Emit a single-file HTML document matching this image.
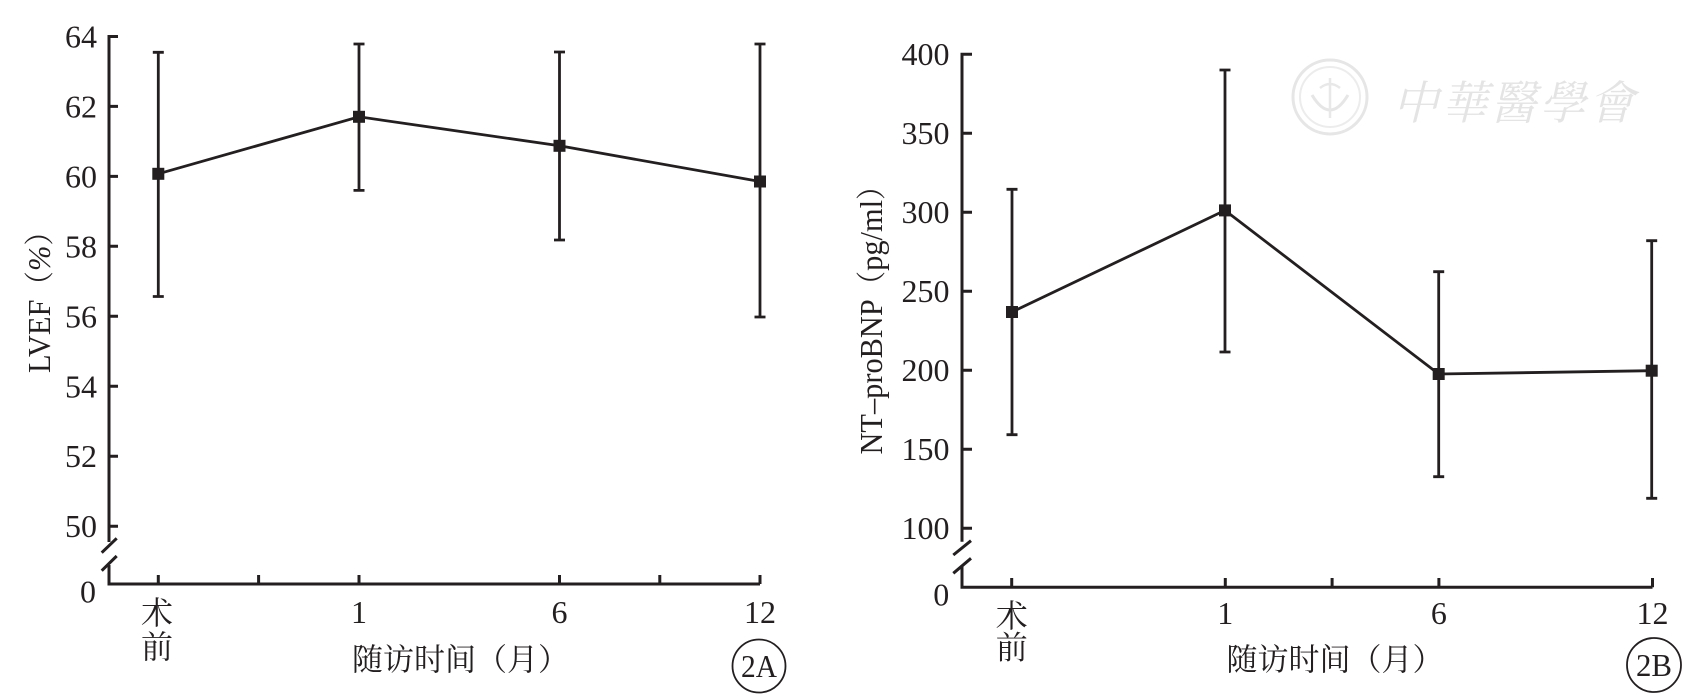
<!DOCTYPE html>
<html>
<head>
<meta charset="utf-8">
<style>
  html, body { margin:0; padding:0; background:#fff; }
  svg { display:block; }
  .num { font-family: "Liberation Serif", "Noto Serif CJK SC", serif; font-size:32px; fill:#231f20; }
  .cjk { font-family: "Liberation Serif", "Noto Serif CJK SC", serif; font-size:31px; fill:#231f20; }
  .ax { stroke:#231f20; stroke-width:3; fill:none; }
  .ln { stroke:#231f20; stroke-width:2.8; fill:none; }
</style>
</head>
<body>
<svg width="1698" height="697" viewBox="0 0 1698 697" xmlns="http://www.w3.org/2000/svg">
  <rect x="0" y="0" width="1698" height="697" fill="#ffffff"/>

  <!-- Watermark -->
  <g opacity="1">
    <circle cx="1330" cy="97" r="37" fill="none" stroke="#e6e6e6" stroke-width="3"/>
    <circle cx="1330" cy="97" r="30" fill="none" stroke="#ececec" stroke-width="2"/>
    <path d="M1312 95 Q1330 125 1348 95" fill="none" stroke="#e6e6e6" stroke-width="3"/>
    <path d="M1330 78 V118 M1320 88 Q1330 80 1340 88" fill="none" stroke="#e8e8e8" stroke-width="2.5"/>
    <text x="1515" y="100" dominant-baseline="central" text-anchor="middle"
      style="font-family:'Noto Serif CJK TC','Noto Serif CJK SC',serif;font-size:46px;fill:#e4e4e4;font-style:italic;letter-spacing:3px;">中華醫學會</text>
  </g>

  <!-- ================= Panel A ================= -->
  <path class="ax" d="M118 36.5 H109 V542 M109 565 V584 H760"/>
  <path class="ax" d="M109 106.4 H118 M109 176.4 H118 M109 246.3 H118 M109 316.3 H118 M109 386.3 H118 M109 456.2 H118 M109 526.2 H118"/>
  <path class="ax" d="M158.3 584 V575 M258.6 584 V575 M359 584 V575 M559.5 584 V575 M659.8 584 V575 M760 584 V575"/>
  <path class="ax" d="M101.7 552.7 L116.7 538.3 M101.7 570.7 L116.7 556"/>

  <g class="num" text-anchor="end">
    <text x="97" y="47.5">64</text>
    <text x="97" y="117.4">62</text>
    <text x="97" y="187.4">60</text>
    <text x="97" y="257.3">58</text>
    <text x="97" y="327.3">56</text>
    <text x="97" y="397.3">54</text>
    <text x="97" y="467.2">52</text>
    <text x="97" y="537.2">50</text>
    <text x="96" y="602.5">0</text>
  </g>
  <g class="num" text-anchor="middle">
    <text x="359" y="623">1</text>
    <text x="559.5" y="623">6</text>
    <text x="760" y="623">12</text>
  </g>
  <text class="cjk" x="157" y="613" text-anchor="middle" dominant-baseline="central" style="font-size:32px">术</text>
  <text class="cjk" x="157" y="647" text-anchor="middle" dominant-baseline="central" style="font-size:32px">前</text>
  <text class="cjk" x="460.5" y="660" text-anchor="middle" dominant-baseline="central">随访时间（月）</text>

  <text transform="translate(50,295) rotate(-90)" text-anchor="middle" class="num" textLength="156" lengthAdjust="spacingAndGlyphs">LVEF<tspan style="font-family:'Noto Serif CJK SC',serif;font-size:30px">（</tspan><tspan font-style="italic">%</tspan><tspan style="font-family:'Noto Serif CJK SC',serif;font-size:30px">）</tspan></text>

  <!-- error bars A -->
  <path class="ln" d="M158.3 52.3 V296.5 M152.8 52.3 H163.8 M152.8 296.5 H163.8"/>
  <path class="ln" d="M359 44 V190.4 M353.5 44 H364.5 M353.5 190.4 H364.5"/>
  <path class="ln" d="M559.5 52 V240 M554 52 H565 M554 240 H565"/>
  <path class="ln" d="M760 44 V317 M754.5 44 H765.5 M754.5 317 H765.5"/>
  <polyline class="ln" points="158.3,173.8 359,116.8 559.5,145.8 760,181.5"/>
  <g fill="#231f20">
    <rect x="152.3" y="167.8" width="12" height="12"/>
    <rect x="353" y="110.8" width="12" height="12"/>
    <rect x="553.5" y="139.8" width="12" height="12"/>
    <rect x="754" y="175.5" width="12" height="12"/>
  </g>

  <circle cx="759" cy="666" r="26.5" fill="none" stroke="#231f20" stroke-width="1.8"/>
  <text x="759" y="677" text-anchor="middle" class="num" style="font-size:32px" textLength="36" lengthAdjust="spacingAndGlyphs">2A</text>

  <!-- ================= Panel B ================= -->
  <path class="ax" d="M972 54.3 H962 V541.7 M962 565 V587.3 H1652.5"/>
  <path class="ax" d="M962 133.3 H972 M962 212.3 H972 M962 291.3 H972 M962 370.3 H972 M962 449.3 H972 M962 528.3 H972"/>
  <path class="ax" d="M1011.7 587.3 V578 M1225.3 587.3 V578 M1332.1 587.3 V578 M1438.9 587.3 V578 M1652.5 587.3 V578"/>
  <path class="ax" d="M953.3 555 L971 540.7 M953.3 573.3 L971 558.3"/>

  <g class="num" text-anchor="end">
    <text x="949.5" y="65">400</text>
    <text x="949.5" y="144">350</text>
    <text x="949.5" y="223">300</text>
    <text x="949.5" y="302">250</text>
    <text x="949.5" y="381">200</text>
    <text x="949.5" y="460">150</text>
    <text x="949.5" y="539">100</text>
    <text x="949.3" y="605.5">0</text>
  </g>
  <g class="num" text-anchor="middle">
    <text x="1225.3" y="624">1</text>
    <text x="1438.9" y="624">6</text>
    <text x="1652.5" y="624">12</text>
  </g>
  <text class="cjk" x="1011.7" y="616" text-anchor="middle" dominant-baseline="central" style="font-size:32px">术</text>
  <text class="cjk" x="1011.7" y="647.5" text-anchor="middle" dominant-baseline="central" style="font-size:32px">前</text>
  <text class="cjk" x="1335" y="660" text-anchor="middle" dominant-baseline="central">随访时间（月）</text>

  <text transform="translate(882,313) rotate(-90)" text-anchor="middle" class="num" textLength="283" lengthAdjust="spacingAndGlyphs">NT–proBNP<tspan style="font-family:'Noto Serif CJK SC',serif;font-size:30px">（</tspan>pg/ml<tspan style="font-family:'Noto Serif CJK SC',serif;font-size:30px">）</tspan></text>

  <!-- error bars B -->
  <path class="ln" d="M1012 189.3 V434.7 M1006.5 189.3 H1017.5 M1006.5 434.7 H1017.5"/>
  <path class="ln" d="M1225 70 V352 M1219.5 70 H1230.5 M1219.5 352 H1230.5"/>
  <path class="ln" d="M1438.7 271.7 V476.7 M1433.2 271.7 H1444.2 M1433.2 476.7 H1444.2"/>
  <path class="ln" d="M1651.7 240.7 V498.3 M1646.2 240.7 H1657.2 M1646.2 498.3 H1657.2"/>
  <polyline class="ln" points="1012,312 1225,210.4 1438.7,374 1651.7,370.7"/>
  <g fill="#231f20">
    <rect x="1006" y="306" width="12" height="12"/>
    <rect x="1219" y="204.4" width="12" height="12"/>
    <rect x="1432.7" y="368" width="12" height="12"/>
    <rect x="1645.7" y="364.7" width="12" height="12"/>
  </g>

  <circle cx="1654" cy="665" r="27" fill="none" stroke="#231f20" stroke-width="1.8"/>
  <text x="1654" y="676" text-anchor="middle" class="num" style="font-size:32px" textLength="36" lengthAdjust="spacingAndGlyphs">2B</text>
</svg>
</body>
</html>
